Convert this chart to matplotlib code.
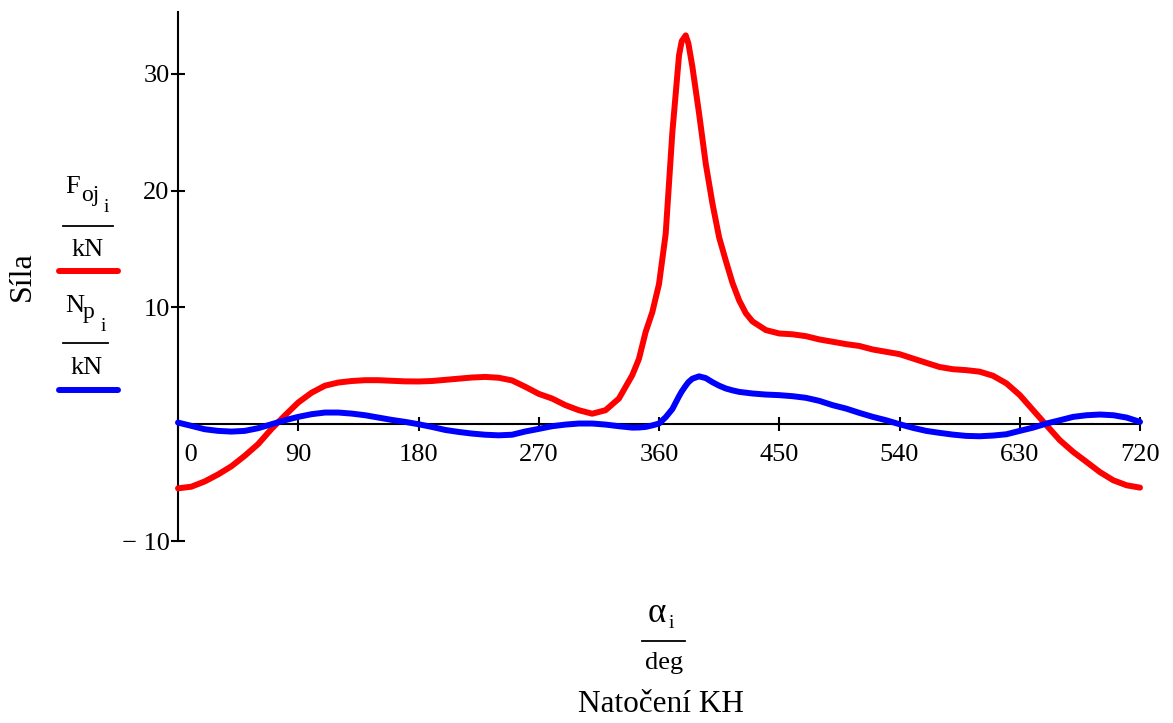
import matplotlib
matplotlib.use("Agg")
import matplotlib.pyplot as plt
from matplotlib.lines import Line2D

plt.rcParams['font.family'] = ['Liberation Serif', 'DejaVu Serif']

# natoceni klikove hridele [deg]
alpha = [0, 10, 20, 30, 40, 50, 60, 70, 80, 90, 100, 110, 120, 130, 140, 150,
         160, 170, 180, 190, 200, 210, 220, 230, 240, 250, 260, 270, 280, 290,
         300, 310, 320, 330, 340, 345, 350, 355, 360, 365, 370, 375, 377, 380,
         382, 385, 390, 395, 400, 405, 410, 415, 420, 425, 430, 440, 450, 460,
         470, 480, 490, 500, 510, 520, 530, 540, 550, 560, 570, 580, 590, 600,
         610, 620, 630, 640, 650, 660, 670, 680, 690, 700, 710, 720]

# sila v ojnici [kN]
F_oj = [-5.49, -5.35, -4.9, -4.3, -3.6, -2.7, -1.7, -0.4, 0.75, 1.86, 2.7, 3.3,
        3.57, 3.7, 3.77, 3.77, 3.72, 3.67, 3.66, 3.7, 3.8, 3.9, 4.0, 4.05, 3.98,
        3.75, 3.2, 2.6, 2.2, 1.63, 1.2, 0.9, 1.2, 2.2, 4.2, 5.6, 7.9, 9.6, 12.0,
        16.3, 25.0, 31.6, 32.8, 33.3, 32.6, 30.6, 26.6, 22.3, 18.9, 16.0, 14.0,
        12.1, 10.6, 9.5, 8.8, 8.06, 7.77, 7.7, 7.54, 7.26, 7.06, 6.86, 6.7, 6.4,
        6.2, 6.0, 5.63, 5.26, 4.9, 4.71, 4.63, 4.5, 4.15, 3.5, 2.5, 1.2, -0.09,
        -1.37, -2.37, -3.23, -4.1, -4.8, -5.23, -5.43]

# normalova sila na pist [kN]
N_p = [0.14, -0.14, -0.43, -0.57, -0.63, -0.57, -0.34, 0.0, 0.34, 0.63, 0.86,
       1.0, 1.0, 0.91, 0.77, 0.57, 0.37, 0.2, 0.0, -0.23, -0.49, -0.66, -0.8,
       -0.9, -0.95, -0.9, -0.62, -0.4, -0.17, -0.03, 0.06, 0.06, -0.03, -0.17,
       -0.29, -0.28, -0.23, -0.1, 0.06, 0.6, 1.3, 2.4, 2.8, 3.3, 3.6, 3.9, 4.1,
       3.95, 3.6, 3.3, 3.06, 2.9, 2.77, 2.7, 2.63, 2.54, 2.49, 2.4, 2.26, 2.0,
       1.63, 1.34, 0.97, 0.63, 0.34, 0.0, -0.31, -0.57, -0.74, -0.89, -1.0,
       -1.03, -0.97, -0.86, -0.57, -0.29, 0.06, 0.34, 0.63, 0.77, 0.83, 0.77,
       0.57, 0.2]

x_ticks = [0, 90, 180, 270, 360, 450, 540, 630, 720]
y_ticks = [-10, 10, 20, 30]
y_labels = ['\u2212 10', '10', '20', '30']

W, H = 1173, 723


def fx(x):
    return x / W


def fy(y):
    return 1 - y / H


fig = plt.figure(figsize=(W / 100, H / 100), dpi=100)
ax = fig.add_axes([fx(178), 182 / H, 962 / W, 529 / H])

ax.plot(alpha, F_oj, color='#ff0000', lw=4.3, solid_capstyle='round',
        solid_joinstyle='round', clip_on=False, zorder=3)
ax.plot(alpha, N_p, color='#0000ff', lw=4.3, solid_capstyle='round',
        solid_joinstyle='round', clip_on=False, zorder=3)

ax.set_xlim(0, 720)
ax.set_ylim(-10, 35.3)

for s in ['top', 'right']:
    ax.spines[s].set_visible(False)
ax.spines['bottom'].set_position(('data', 0))
ax.spines['bottom'].set_linewidth(1.5)
ax.spines['left'].set_linewidth(1.5)

ax.set_xticks(x_ticks)
xl = ax.set_xticklabels([' 0'] + [str(v) for v in x_ticks[1:]])
xl[0].set_horizontalalignment('left')
ax.set_yticks(y_ticks)
ax.set_yticklabels(y_labels)
ax.tick_params(axis='x', direction='inout', length=10, width=1.5,
               labelsize=19, pad=9)
ax.tick_params(axis='y', direction='inout', length=10, width=1.5,
               labelsize=19, pad=1)

# popisek osy y (Mathcad styl)
fig.text(fx(22), fy(276), 'Síla', rotation=90, ha='center', va='center', size=23)
fig.text(fx(65), fy(193), 'F', size=19, va='baseline')
fig.text(fx(81), fy(201), 'oj', size=17, va='baseline')
fig.text(fx(104), fy(212), 'i', size=14, va='baseline')
fig.add_artist(Line2D([fx(63), fx(113)], [fy(226), fy(226)], color='k', lw=1.3))
fig.text(fx(88), fy(256), 'kN', size=19, ha='center', va='baseline')
fig.add_artist(Line2D([fx(59), fx(118)], [fy(271), fy(271)], color='#ff0000',
                      lw=4.3, solid_capstyle='round'))

fig.text(fx(65), fy(312), 'N', size=19, va='baseline')
fig.text(fx(83), fy(318), 'p', size=17, va='baseline')
fig.text(fx(101), fy(331), 'i', size=14, va='baseline')
fig.add_artist(Line2D([fx(63), fx(108)], [fy(343), fy(343)], color='k', lw=1.3))
fig.text(fx(87), fy(374), 'kN', size=19, ha='center', va='baseline')
fig.add_artist(Line2D([fx(59), fx(118)], [fy(390), fy(390)], color='#0000ff',
                      lw=4.3, solid_capstyle='round'))

# popisek osy x
fig.text(fx(648), fy(622), 'α', size=25, va='baseline')
fig.text(fx(669), fy(628), 'i', size=14, va='baseline')
fig.add_artist(Line2D([fx(642), fx(685)], [fy(641), fy(641)], color='k', lw=1.3))
fig.text(fx(664), fy(669), 'deg', size=19, ha='center', va='baseline')
fig.text(fx(661), fy(712), 'Natočení KH', size=22.5, ha='center', va='baseline')

fig.savefig('out.png', dpi=100)
